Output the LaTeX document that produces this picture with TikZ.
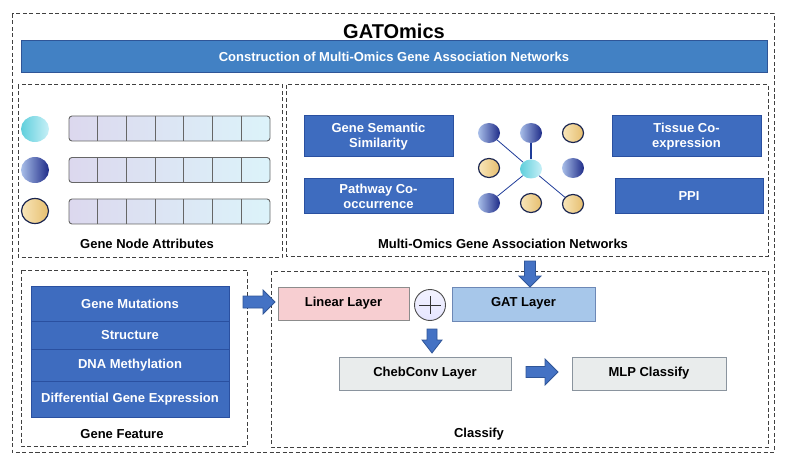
\documentclass[tikz,border=0pt]{standalone}
\usepackage{fontspec}
\setmainfont{Liberation Sans}
\usetikzlibrary{shapes.geometric}
\definecolor{bannerblue}{HTML}{4281C4}
\definecolor{boxblue}{HTML}{3E6CBF}
\definecolor{boxline}{HTML}{2A50A0}
\definecolor{arrowblue}{HTML}{4472C4}
\definecolor{arrowline}{HTML}{2F5597}
\definecolor{linpink}{HTML}{F7CED1}
\definecolor{gatblue}{HTML}{A7C7EA}
\definecolor{chebgray}{HTML}{E9ECEC}
\definecolor{chebline}{HTML}{8A949E}
\definecolor{edgeblue}{HTML}{1F3C99}
\definecolor{balldark}{HTML}{1A2550}
\definecolor{cyanleft}{HTML}{5FCFDC}
\definecolor{cyanright}{HTML}{C8F0F7}
\definecolor{blueleft}{HTML}{A9BFE9}
\definecolor{blueright}{HTML}{1E2B88}
\definecolor{tanleft}{HTML}{F8E6BA}
\definecolor{tanright}{HTML}{E6BE6E}
\definecolor{barleft}{HTML}{DCD8EE}
\definecolor{barright}{HTML}{DCF3FA}

\begin{document}
\begin{tikzpicture}[x=1pt,y=-1pt,
	dashbox/.style={draw=black!75, line width=1pt, dash pattern=on 4pt off 2.5pt},
	lbl/.style={font=\bfseries\fontsize{13}{15}\selectfont, text=black},
	bluebox/.style={draw=boxline, fill=boxblue, line width=1pt, text=white, align=center, inner sep=0pt, font=\bfseries\fontsize{13}{15}\selectfont},
	layerbox/.style={draw=black!45, line width=1pt, inner sep=0pt, text height=9pt, text depth=4pt, font=\bfseries\fontsize{13}{15}\selectfont},
	cyanball/.style={ellipse, inner sep=0pt, left color=cyanleft, right color=cyanright},
	blueball/.style={ellipse, inner sep=0pt, left color=blueleft, right color=blueright},
	tanball/.style={ellipse, inner sep=0pt, draw=balldark, line width=1.2pt, left color=tanleft, right color=tanright},
	bar/.style={draw=black!60, line width=0.9pt, rounded corners=3pt, left color=barleft, right color=barright},
	edge/.style={draw=edgeblue, line width=0.8pt},
	blockarrow/.style={fill=arrowblue, draw=arrowline, line width=0.8pt}]
	\useasboundingbox (0,0) rectangle (794,462);
	% Frame and title
	\draw[dashbox] (12,14) rectangle (774,452);
	\node[font=\bfseries\fontsize{20}{24}\selectfont] (title) at (394,31) {GATOmics};
	\node[fill=bannerblue, draw=arrowline, line width=1pt, minimum width=746pt, minimum height=32pt, text=white, font=\bfseries\fontsize{13}{15}\selectfont] (banner) at (394,57) {Construction of Multi-Omics Gene Association Networks};
	% Gene node attributes
	\draw[dashbox] (18,85) rectangle (282,257);
	\node[cyanball, minimum width=28pt, minimum height=26pt] (g1) at (35,129) {};
	\node[blueball, minimum width=28pt, minimum height=26pt] (g2) at (35,170) {};
	\node[tanball, minimum width=27pt, minimum height=25pt] (g3) at (35,211) {};
	\foreach \y in {128.5,170,211.5} {
		\draw[bar] (69,\y-12.5) rectangle (270,\y+12.5);
		\foreach \i in {1,...,6}
			\draw[draw=black!60, line width=0.8pt] (69+\i*28.7,\y-12.5) -- (69+\i*28.7,\y+12.5);
	}
	\node[lbl] (attr) at (147,244) {Gene Node Attributes};
	% Association networks
	\draw[dashbox] (286,85) rectangle (768,256);
	\node[bluebox, minimum width=149pt, minimum height=41pt] (sem) at (378.5,136.5) {Gene Semantic\\Similarity};
	\node[bluebox, minimum width=149pt, minimum height=35pt] (path) at (378.5,196.5) {Pathway Co-\\occurrence};
	\node[bluebox, minimum width=149pt, minimum height=41pt] (tis) at (686.5,136.5) {Tissue Co-\\expression};
	\node[bluebox, minimum width=148pt, minimum height=35pt] (ppi) at (689,196.5) {PPI};
	\node[blueball, minimum width=22pt, minimum height=20pt] (n1) at (489,133) {};
	\node[blueball, minimum width=22pt, minimum height=20pt] (n2) at (531,133) {};
	\node[tanball, minimum width=21pt, minimum height=19pt] (n3) at (573,133) {};
	\node[tanball, minimum width=21pt, minimum height=19pt] (n4) at (489,168) {};
	\node[cyanball, minimum width=22pt, minimum height=19pt] (nc) at (531,169) {};
	\node[blueball, minimum width=22pt, minimum height=20pt] (n6) at (573,168) {};
	\node[blueball, minimum width=22pt, minimum height=20pt] (n7) at (489,203) {};
	\node[tanball, minimum width=21pt, minimum height=19pt] (n8) at (531,203) {};
	\node[tanball, minimum width=21pt, minimum height=19pt] (n9) at (573,204) {};
	\draw[edge] (nc) -- (n1);
	\draw[edge, line width=2pt] (nc) -- (n2);
	\draw[edge] (nc) -- (n7);
	\draw[edge] (nc) -- (n9);
	\node[lbl] (net) at (503,244) {Multi-Omics Gene Association Networks};
	% Gene feature
	\draw[dashbox] (21,270) rectangle (247,446);
	\node[bluebox, minimum width=198pt, minimum height=35pt] (mut) at (130,303.5) {Gene Mutations};
	\node[bluebox, minimum width=198pt, minimum height=28pt] (str) at (130,335) {Structure};
	\node[bluebox, minimum width=198pt, minimum height=32pt] (dna) at (130,365) {DNA Methylation};
	\node[bluebox, minimum width=198pt, minimum height=36pt] (deg) at (130,399) {Differential Gene Expression};
	\node[lbl] (feat) at (122,434) {Gene Feature};
	% Classify
	\draw[dashbox] (271,271) rectangle (768,447);
	\node[layerbox, fill=linpink, minimum width=131pt, minimum height=33pt] (lin) at (343.5,303.5) {Linear Layer};
	\node[circle, draw=black!70, line width=0.9pt, inner sep=0pt, minimum size=31pt, top color=white!95!blue, bottom color=blue!10] (plus) at (430,305) {};
	\draw[black!80, line width=0.8pt] ([xshift=-11pt]plus.center) -- ([xshift=11pt]plus.center);
	\draw[black!80, line width=0.8pt] ([yshift=9pt]plus.center) -- ([yshift=-9pt]plus.center);
	\node[layerbox, draw=arrowline!70, fill=gatblue, minimum width=143pt, minimum height=34pt] (gat) at (523.5,304) {GAT Layer};
	\node[layerbox, fill=chebgray, draw=chebline, minimum width=172pt, minimum height=33pt] (cheb) at (425,373.5) {ChebConv Layer};
	\node[layerbox, fill=chebgray, draw=chebline, minimum width=154pt, minimum height=33pt] (mlp) at (649,373.5) {MLP Classify};
	\node[lbl] (cls) at (479,434) {Classify};
	% Block arrows
	\draw[blockarrow] (243,296) -- (263,296) -- (263,290) -- (275,302) -- (263,314) -- (263,308) -- (243,308) -- cycle;
	\draw[blockarrow] (524.5,261) -- (524.5,276) -- (519,276) -- (530,287) -- (541,276) -- (535.5,276) -- (535.5,261) -- cycle;
	\draw[blockarrow] (427,329) -- (427,340) -- (422,340) -- (432,353) -- (442,340) -- (437,340) -- (437,329) -- cycle;
	\draw[blockarrow] (526,366.5) -- (545,366.5) -- (545,359) -- (558,372) -- (545,385) -- (545,377.5) -- (526,377.5) -- cycle;
\end{tikzpicture}
\end{document}
